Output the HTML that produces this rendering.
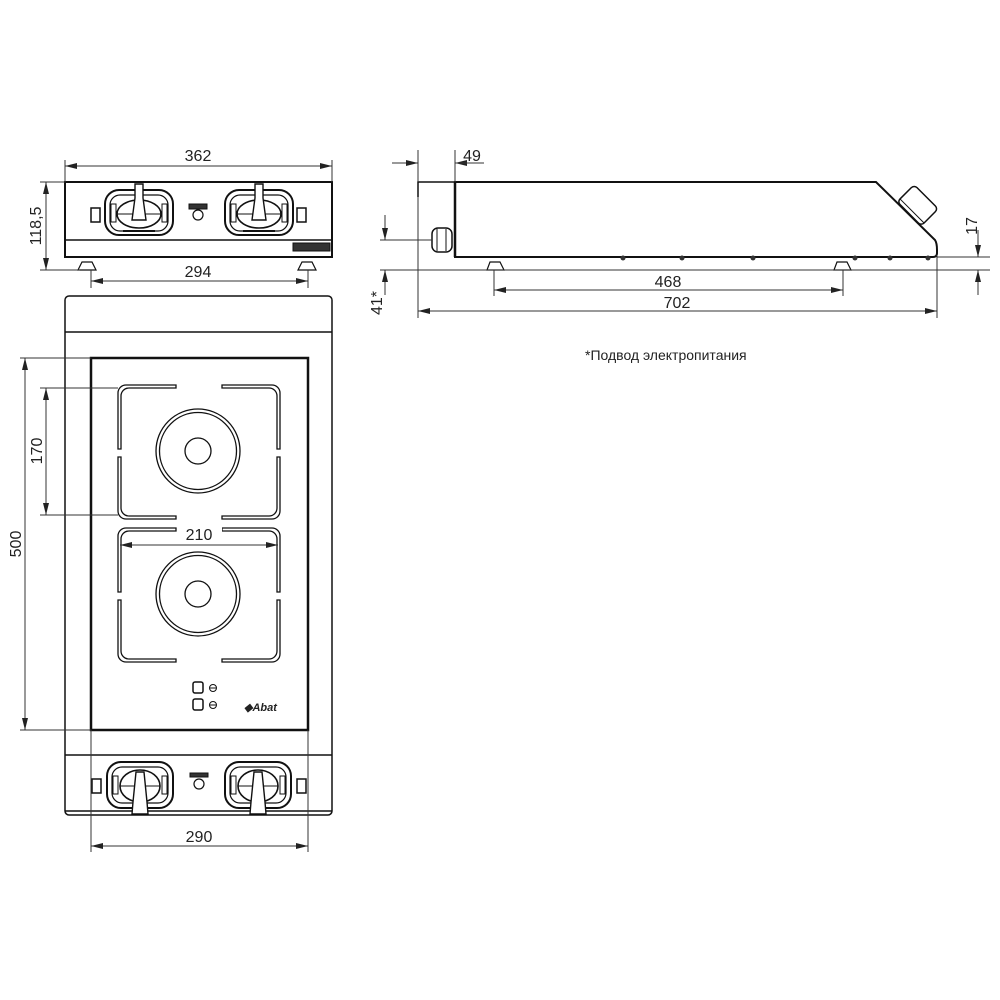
<!DOCTYPE html>
<html><head><meta charset="utf-8"><style>
html,body{margin:0;padding:0;background:#fff;}
svg{display:block;}
text{font-family:"Liberation Sans",Arial,sans-serif;fill:#222;}
</style></head><body>
<svg width="1000" height="1000" viewBox="0 0 1000 1000" xmlns="http://www.w3.org/2000/svg">
<defs>
<marker id="a" viewBox="0 0 12 6" refX="12" refY="3" markerWidth="12" markerHeight="6" orient="auto-start-reverse" markerUnits="userSpaceOnUse"><path d="M0,0 L12,3 L0,6 z" fill="#222"/></marker>
<g id="knobT">
<rect x="0" y="0" width="68" height="45" rx="14" fill="none" stroke="#111" stroke-width="2"/>
<rect x="5" y="5" width="58" height="36" rx="10" fill="none" stroke="#111" stroke-width="1.2"/>
<ellipse cx="34" cy="24" rx="22" ry="14" fill="#fff" stroke="#111" stroke-width="1.6"/>
<line x1="12" y1="24" x2="56" y2="24" stroke="#111" stroke-width="1"/>
<path d="M30,-6 L38,-6 L38,8 L41,30 L27,30 L30,8z" fill="#fff" stroke="#111" stroke-width="1.4"/>
<rect x="6" y="14" width="5" height="18" fill="none" stroke="#111"/>
<rect x="57" y="14" width="5" height="18" fill="none" stroke="#111"/>
<line x1="18" y1="41" x2="50" y2="41" stroke="#111" stroke-width="2"/>
</g>
<g id="knobB">
<rect x="0" y="0" width="66" height="46" rx="14" fill="none" stroke="#111" stroke-width="2"/>
<rect x="5" y="5" width="56" height="36" rx="10" fill="none" stroke="#111" stroke-width="1.2"/>
<ellipse cx="33" cy="24" rx="20" ry="16" fill="#fff" stroke="#111" stroke-width="1.6"/>
<line x1="13" y1="24" x2="53" y2="24" stroke="#111" stroke-width="1"/>
<path d="M29,10 L37,10 L40,40 L41,52 L25,52 L26,40z" fill="#fff" stroke="#111" stroke-width="1.4"/>
<rect x="6" y="14" width="5" height="18" fill="none" stroke="#111"/>
<rect x="55" y="14" width="5" height="18" fill="none" stroke="#111"/>
</g>
<g id="burner" fill="none" stroke="#111" stroke-width="1.3">
<path d="M0,64 V8 A8,8 0 0 1 8,0 H58 V3 H11 A8,8 0 0 0 3,11 V64z"/>
<path d="M162,64 V8 A8,8 0 0 0 154,0 H104 V3 H151 A8,8 0 0 1 159,11 V64z"/>
<path d="M0,72 V126 A8,8 0 0 0 8,134 H58 V131 H11 A8,8 0 0 1 3,123 V72z"/>
<path d="M162,72 V126 A8,8 0 0 1 154,134 H104 V131 H151 A8,8 0 0 0 159,123 V72z"/>
<circle cx="80" cy="66" r="42"/><circle cx="80" cy="66" r="38.5"/><circle cx="80" cy="66" r="13"/>
</g>
</defs>

<!-- FRONT VIEW -->
<g fill="none" stroke="#111">
<rect x="65" y="182" width="267" height="75" stroke-width="2"/>
<line x1="65" y1="240" x2="332" y2="240" stroke-width="1.5"/>
<path d="M78,270 L82,262 L92,262 L96,270z" stroke-width="1.2"/>
<path d="M298,270 L302,262 L312,262 L316,270z" stroke-width="1.2"/>
<rect x="91" y="208" width="9" height="14" stroke-width="1.5"/>
<rect x="297" y="208" width="9" height="14" stroke-width="1.5"/>
<circle cx="198" cy="215" r="5" stroke-width="1.2"/>
<rect x="189" y="204" width="18" height="5" fill="#333"/>
<rect x="293" y="243" width="37" height="8" fill="#333"/>
</g>
<use href="#knobT" x="105" y="190"/>
<use href="#knobT" x="225" y="190"/>
<g stroke="#333" stroke-width="1" fill="none">
<line x1="65" y1="182" x2="65" y2="160"/><line x1="332" y1="182" x2="332" y2="160"/>
<line x1="65" y1="166" x2="332" y2="166" marker-start="url(#a)" marker-end="url(#a)"/>
<line x1="65" y1="182" x2="40" y2="182"/><line x1="80" y1="270" x2="40" y2="270"/>
<line x1="46" y1="182" x2="46" y2="270" marker-start="url(#a)" marker-end="url(#a)"/>
<line x1="91" y1="270" x2="91" y2="288"/><line x1="308" y1="270" x2="308" y2="288"/>
<line x1="91" y1="281" x2="308" y2="281" marker-start="url(#a)" marker-end="url(#a)"/>
</g>
<text x="198" y="161" font-size="16" text-anchor="middle">362</text>
<text x="198" y="277" font-size="16" text-anchor="middle">294</text>
<text transform="translate(41,226) rotate(-90)" font-size="16" text-anchor="middle">118,5</text>

<!-- TOP VIEW -->
<g fill="none" stroke="#111">
<rect x="65" y="296" width="267" height="519" rx="4" stroke-width="1.5"/>
<line x1="65" y1="332" x2="332" y2="332" stroke-width="1.5"/>
<rect x="91" y="358" width="217" height="372" stroke-width="2.5"/>
<line x1="65" y1="755" x2="332" y2="755" stroke-width="1.5"/>
<line x1="65" y1="811" x2="332" y2="811" stroke-width="1.5"/>
<rect x="193" y="682" width="10" height="11" rx="2" stroke-width="1.5"/>
<rect x="193" y="699" width="10" height="11" rx="2" stroke-width="1.5"/>
<circle cx="213" cy="688" r="3.5"/><circle cx="213" cy="705" r="3.5"/>
<line x1="210" y1="688" x2="216" y2="688"/><line x1="210" y1="705" x2="216" y2="705"/>
<rect x="92" y="779" width="9" height="14" stroke-width="1.5"/>
<rect x="297" y="779" width="9" height="14" stroke-width="1.5"/>
<circle cx="199" cy="784" r="5" stroke-width="1.2"/>
<rect x="190" y="773" width="18" height="4" fill="#333"/>
</g>
<text x="244" y="711" font-size="11" font-weight="bold" font-family="Liberation Serif" font-style="italic">◆Abat</text>
<use href="#burner" x="118" y="385"/>
<use href="#burner" x="118" y="528"/>
<use href="#knobB" x="107" y="762"/>
<use href="#knobB" x="225" y="762"/>
<g stroke="#333" stroke-width="1" fill="none">
<line x1="20" y1="358" x2="91" y2="358"/><line x1="20" y1="730" x2="91" y2="730"/>
<line x1="25" y1="358" x2="25" y2="730" marker-start="url(#a)" marker-end="url(#a)"/>
<line x1="40" y1="388" x2="118" y2="388"/><line x1="40" y1="515" x2="118" y2="515"/>
<line x1="46" y1="388" x2="46" y2="515" marker-start="url(#a)" marker-end="url(#a)"/>
<line x1="120" y1="545" x2="278" y2="545" marker-start="url(#a)" marker-end="url(#a)"/>
<line x1="91" y1="730" x2="91" y2="852"/><line x1="308" y1="730" x2="308" y2="852"/>
<line x1="91" y1="846" x2="308" y2="846" marker-start="url(#a)" marker-end="url(#a)"/>
</g>
<rect x="178" y="525" width="44" height="16" fill="#fff"/>
<text x="199" y="540" font-size="16" text-anchor="middle">210</text>
<text x="199" y="842" font-size="16" text-anchor="middle">290</text>
<text transform="translate(21,544) rotate(-90)" font-size="16" text-anchor="middle">500</text>
<text transform="translate(42,451) rotate(-90)" font-size="16" text-anchor="middle">170</text>

<!-- SIDE VIEW -->
<g fill="none" stroke="#111">
<path d="M418,197 V182 H455" stroke-width="1.5"/>
<path d="M455,182 H876 L935,240 Q937,243 937,250 V253 Q937,257 933,257 H455 Z" stroke-width="2"/>
<line x1="455" y1="182" x2="455" y2="257" stroke-width="2.5"/>
<rect x="432" y="228" width="20" height="24" rx="6" stroke-width="1.5"/>
<line x1="437" y1="229" x2="437" y2="251"/><line x1="446" y1="229" x2="446" y2="251"/>
<path d="M487,270 L490,262 L500,262 L504,270z" stroke-width="1.2"/>
<path d="M834,270 L837,262 L847,262 L851,270z" stroke-width="1.2"/>
<g transform="translate(917,206) rotate(45)"><rect x="-17" y="-13" width="34" height="24" rx="4" stroke-width="1.5"/><line x1="-17" y1="7" x2="17" y2="7"/></g>
</g>
<g fill="#333"><circle cx="623" cy="258" r="2.5"/><circle cx="682" cy="258" r="2.5"/><circle cx="753" cy="258" r="2.5"/><circle cx="855" cy="258" r="2.5"/><circle cx="890" cy="258" r="2.5"/><circle cx="928" cy="258" r="2.5"/></g>
<g stroke="#333" stroke-width="1" fill="none">
<line x1="418" y1="197" x2="418" y2="318"/><line x1="455" y1="182" x2="455" y2="150"/><line x1="418" y1="182" x2="418" y2="150"/>
<line x1="392" y1="163" x2="418" y2="163" marker-end="url(#a)"/><line x1="484" y1="163" x2="455" y2="163" marker-end="url(#a)"/>
<line x1="455" y1="163" x2="484" y2="163"/>
<line x1="380" y1="240" x2="432" y2="240"/><line x1="380" y1="270" x2="990" y2="270"/>
<line x1="385" y1="215" x2="385" y2="240" marker-end="url(#a)"/><line x1="385" y1="295" x2="385" y2="270" marker-end="url(#a)"/>
<line x1="494" y1="270" x2="494" y2="296"/><line x1="843" y1="270" x2="843" y2="296"/>
<line x1="494" y1="290" x2="843" y2="290" marker-start="url(#a)" marker-end="url(#a)"/>
<line x1="937" y1="255" x2="937" y2="318"/>
<line x1="418" y1="311" x2="937" y2="311" marker-start="url(#a)" marker-end="url(#a)"/>
<line x1="937" y1="257" x2="990" y2="257"/>
<line x1="978" y1="230" x2="978" y2="257" marker-end="url(#a)"/><line x1="978" y1="295" x2="978" y2="270" marker-end="url(#a)"/>
</g>
<text x="472" y="161" font-size="16" text-anchor="middle">49</text>
<text x="668" y="287" font-size="16" text-anchor="middle">468</text>
<text x="677" y="308" font-size="16" text-anchor="middle">702</text>
<text transform="translate(977,226) rotate(-90)" font-size="16" text-anchor="middle">17</text>
<text transform="translate(382,303) rotate(-90)" font-size="16" text-anchor="middle">41*</text>
<text x="585" y="360" font-size="14" font-family="'DejaVu Sans',sans-serif">*Подвод электропитания</text>
</svg>
</body></html>
